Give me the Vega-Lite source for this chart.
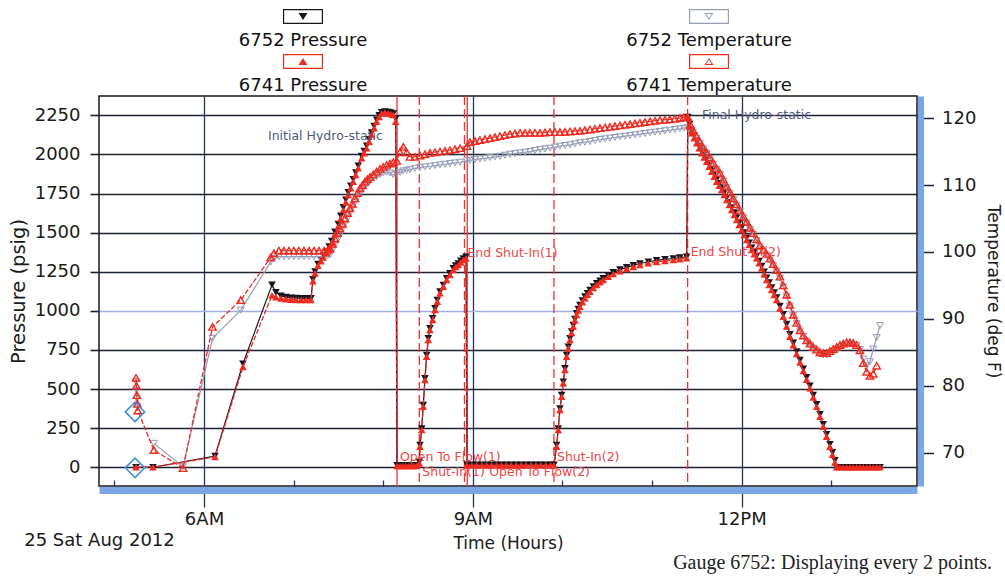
{
  "$schema": "https://vega.github.io/schema/vega-lite/v6.json",
  "width": 818,
  "height": 390,
  "autosize": {"type": "none"},
  "padding": {"left": 99, "top": 96, "right": 88, "bottom": 95},
  "background": "white",
  "title": {"text": "Gauge 6752: Displaying every 2 points.", "orient": "bottom", "anchor": "end", "frame": "group", "dx": 75, "offset": 2, "font": "Liberation Serif", "fontSize": 20, "fontWeight": "normal", "color": "#222222"},
  "config": {
    "view": {"stroke": "#1a1a1a", "strokeWidth": 1.5},
    "axis": {"labelFont": "DejaVu Sans", "titleFont": "DejaVu Sans", "labelColor": "#1a1a1a", "titleColor": "#1a1a1a", "titleFontWeight": "normal"}
  },
  "datasets": {
    "pres": [
      {"t":5.241,"P52":0,"P41":0},{"t":5.431,"P52":0,"P41":0},{"t":6.123,"P52":72,"P41":66},{"t":6.435,"P52":662,"P41":641},
      {"t":6.759,"P52":1166,"P41":1100},{"t":6.803,"P52":1118,"P41":1088},{"t":6.859,"P52":1096,"P41":1080},{"t":6.915,"P52":1088,"P41":1075},
      {"t":6.971,"P52":1084,"P41":1072},{"t":7.027,"P52":1082,"P41":1070},{"t":7.082,"P52":1081,"P41":1070},{"t":7.138,"P52":1080,"P41":1070},
      {"t":7.194,"P52":1080,"P41":1070},{"t":7.216,"P52":1202,"P41":1190},{"t":7.239,"P52":1252,"P41":1240},{"t":7.272,"P52":1300,"P41":1288},
      {"t":7.306,"P52":1330,"P41":1318},{"t":7.331,"P52":1354,"P41":1342},{"t":7.369,"P52":1380,"P41":1368},{"t":7.397,"P52":1412,"P41":1400},
      {"t":7.425,"P52":1446,"P41":1432},{"t":7.462,"P52":1505,"P41":1490},{"t":7.499,"P52":1555,"P41":1538},{"t":7.527,"P52":1608,"P41":1590},
      {"t":7.555,"P52":1662,"P41":1645},{"t":7.583,"P52":1711,"P41":1694},{"t":7.610,"P52":1758,"P41":1741},{"t":7.638,"P52":1800,"P41":1784},
      {"t":7.666,"P52":1842,"P41":1826},{"t":7.694,"P52":1885,"P41":1869},{"t":7.722,"P52":1928,"P41":1912},{"t":7.760,"P52":1990,"P41":1976},
      {"t":7.788,"P52":2022,"P41":2008},{"t":7.816,"P52":2055,"P41":2040},{"t":7.843,"P52":2097,"P41":2082},{"t":7.871,"P52":2140,"P41":2125},
      {"t":7.899,"P52":2182,"P41":2168},{"t":7.927,"P52":2222,"P41":2210},{"t":7.955,"P52":2250,"P41":2240},{"t":7.983,"P52":2270,"P41":2263},
      {"t":8.020,"P52":2274,"P41":2268},{"t":8.057,"P52":2272,"P41":2263},{"t":8.085,"P52":2268,"P41":2258},{"t":8.113,"P52":2262,"P41":2253},
      {"t":8.139,"P52":2230,"P41":2210},{"t":8.154,"P52":12,"P41":8},{"t":8.187,"P52":12,"P41":8},{"t":8.220,"P52":12,"P41":8},
      {"t":8.250,"P52":12,"P41":8},{"t":8.280,"P52":12,"P41":8},{"t":8.310,"P52":12,"P41":8},{"t":8.340,"P52":12,"P41":8},
      {"t":8.370,"P52":12,"P41":8},{"t":8.403,"P52":34,"P41":26},{"t":8.411,"P52":142,"P41":132},{"t":8.430,"P52":248,"P41":238},
      {"t":8.447,"P52":397,"P41":387},{"t":8.466,"P52":568,"P41":558},{"t":8.485,"P52":717,"P41":707},{"t":8.503,"P52":824,"P41":814},
      {"t":8.522,"P52":888,"P41":878},{"t":8.552,"P52":952,"P41":942},{"t":8.578,"P52":1016,"P41":1006},{"t":8.604,"P52":1069,"P41":1059},
      {"t":8.634,"P52":1123,"P41":1113},{"t":8.671,"P52":1165,"P41":1155},{"t":8.709,"P52":1208,"P41":1198},{"t":8.745,"P52":1240,"P41":1230},
      {"t":8.782,"P52":1272,"P41":1262},{"t":8.810,"P52":1290,"P41":1280},{"t":8.838,"P52":1303,"P41":1293},{"t":8.866,"P52":1320,"P41":1310},
      {"t":8.894,"P52":1335,"P41":1325},{"t":8.924,"P52":1346,"P41":1336},{"t":8.935,"P52":15,"P41":12},{"t":8.990,"P52":15,"P41":12},
      {"t":9.045,"P52":15,"P41":12},{"t":9.100,"P52":15,"P41":12},{"t":9.155,"P52":15,"P41":12},{"t":9.210,"P52":15,"P41":12},
      {"t":9.265,"P52":15,"P41":12},{"t":9.320,"P52":15,"P41":12},{"t":9.375,"P52":15,"P41":12},{"t":9.430,"P52":15,"P41":12},
      {"t":9.485,"P52":15,"P41":12},{"t":9.540,"P52":15,"P41":12},{"t":9.595,"P52":15,"P41":12},{"t":9.650,"P52":15,"P41":12},
      {"t":9.705,"P52":15,"P41":12},{"t":9.760,"P52":15,"P41":12},{"t":9.815,"P52":15,"P41":12},{"t":9.870,"P52":15,"P41":12},
      {"t":9.906,"P52":15,"P41":12},{"t":9.936,"P52":142,"P41":132},{"t":9.954,"P52":248,"P41":238},{"t":9.973,"P52":376,"P41":366},
      {"t":9.992,"P52":461,"P41":451},{"t":10.010,"P52":547,"P41":537},{"t":10.029,"P52":632,"P41":622},{"t":10.048,"P52":717,"P41":707},
      {"t":10.066,"P52":770,"P41":760},{"t":10.085,"P52":824,"P41":814},{"t":10.103,"P52":868,"P41":858},{"t":10.122,"P52":909,"P41":899},
      {"t":10.140,"P52":948,"P41":938},{"t":10.159,"P52":984,"P41":974},{"t":10.177,"P52":1012,"P41":1002},{"t":10.196,"P52":1037,"P41":1027},
      {"t":10.224,"P52":1066,"P41":1056},{"t":10.252,"P52":1091,"P41":1081},{"t":10.280,"P52":1113,"P41":1103},{"t":10.308,"P52":1133,"P41":1123},
      {"t":10.345,"P52":1156,"P41":1146},{"t":10.383,"P52":1176,"P41":1166},{"t":10.420,"P52":1193,"P41":1183},{"t":10.456,"P52":1208,"P41":1198},
      {"t":10.512,"P52":1228,"P41":1218},{"t":10.568,"P52":1246,"P41":1236},{"t":10.643,"P52":1264,"P41":1254},{"t":10.718,"P52":1278,"P41":1268},
      {"t":10.792,"P52":1291,"P41":1281},{"t":10.866,"P52":1303,"P41":1293},{"t":10.960,"P52":1314,"P41":1304},{"t":11.052,"P52":1323,"P41":1313},
      {"t":11.145,"P52":1329,"P41":1319},{"t":11.238,"P52":1335,"P41":1325},{"t":11.310,"P52":1341,"P41":1331},{"t":11.387,"P52":1346,"P41":1336},
      {"t":11.400,"P52":2240,"P41":2235},{"t":11.420,"P52":2195,"P41":2180},{"t":11.443,"P52":2151,"P41":2136},{"t":11.471,"P52":2119,"P41":2104},
      {"t":11.499,"P52":2087,"P41":2072},{"t":11.527,"P52":2055,"P41":2040},{"t":11.554,"P52":2023,"P41":2008},{"t":11.582,"P52":1996,"P41":1981},
      {"t":11.610,"P52":1969,"P41":1954},{"t":11.638,"P52":1937,"P41":1922},{"t":11.666,"P52":1905,"P41":1890},{"t":11.694,"P52":1873,"P41":1858},
      {"t":11.722,"P52":1841,"P41":1826},{"t":11.750,"P52":1815,"P41":1800},{"t":11.778,"P52":1788,"P41":1773},{"t":11.806,"P52":1756,"P41":1741},
      {"t":11.834,"P52":1724,"P41":1709},{"t":11.862,"P52":1692,"P41":1677},{"t":11.890,"P52":1660,"P41":1645},{"t":11.918,"P52":1628,"P41":1613},
      {"t":11.945,"P52":1596,"P41":1581},{"t":11.973,"P52":1564,"P41":1549},{"t":12.001,"P52":1532,"P41":1517},{"t":12.029,"P52":1500,"P41":1485},
      {"t":12.057,"P52":1468,"P41":1453},{"t":12.085,"P52":1436,"P41":1421},{"t":12.113,"P52":1404,"P41":1389},{"t":12.140,"P52":1377,"P41":1362},
      {"t":12.168,"P52":1351,"P41":1336},{"t":12.196,"P52":1319,"P41":1304},{"t":12.224,"P52":1287,"P41":1272},{"t":12.252,"P52":1250,"P41":1235},
      {"t":12.280,"P52":1212,"P41":1197},{"t":12.308,"P52":1181,"P41":1166},{"t":12.336,"P52":1149,"P41":1134},{"t":12.364,"P52":1117,"P41":1102},
      {"t":12.392,"P52":1085,"P41":1070},{"t":12.428,"P52":1031,"P41":1016},{"t":12.465,"P52":978,"P41":963},{"t":12.503,"P52":915,"P41":900},
      {"t":12.540,"P52":850,"P41":835},{"t":12.577,"P52":795,"P41":780},{"t":12.615,"P52":740,"P41":725},{"t":12.652,"P52":685,"P41":670},
      {"t":12.689,"P52":630,"P41":615},{"t":12.726,"P52":575,"P41":560},{"t":12.763,"P52":520,"P41":505},{"t":12.800,"P52":461,"P41":446},
      {"t":12.838,"P52":402,"P41":387},{"t":12.875,"P52":338,"P41":323},{"t":12.911,"P52":275,"P41":260},{"t":12.949,"P52":211,"P41":196},
      {"t":12.986,"P52":147,"P41":132},{"t":13.014,"P52":95,"P41":80},{"t":13.042,"P52":45,"P41":30},{"t":13.061,"P52":0,"P41":0},
      {"t":13.098,"P52":0,"P41":0},{"t":13.135,"P52":0,"P41":0},{"t":13.173,"P52":0,"P41":0},{"t":13.210,"P52":0,"P41":0},
      {"t":13.245,"P52":0,"P41":0},{"t":13.284,"P52":0,"P41":0},{"t":13.321,"P52":0,"P41":0},{"t":13.358,"P52":0,"P41":0},
      {"t":13.396,"P52":0,"P41":0},{"t":13.433,"P52":0,"P41":0},{"t":13.470,"P52":0,"P41":0},{"t":13.508,"P52":0,"P41":0},
      {"t":13.545,"P52":0,"P41":0}
    ],
    "temp": [
      {"t":5.241,"T52":80.6,"T41":81.2},{"t":5.246,"T52":79.3,"T41":80.0},{"t":5.251,"T52":78.0,"T41":78.6},{"t":5.256,"T52":76.9,"T41":77.3},
      {"t":5.261,"T41":76.3},{"t":5.440,"T52":71.4,"T41":70.4},{"t":5.766,"T52":67.9,"T41":67.7},{"t":6.095,"T52":87.1,"T41":88.8},
      {"t":6.410,"T52":91.3,"T41":92.8},{"t":6.745,"T52":98.5,"T41":99.2},{"t":6.780,"T52":99.0,"T41":99.8},{"t":6.836,"T52":99.3,"T41":100.2},
      {"t":6.892,"T52":99.3,"T41":100.2},{"t":6.948,"T52":99.3,"T41":100.2},{"t":7.004,"T52":99.3,"T41":100.2},{"t":7.060,"T52":99.3,"T41":100.2},
      {"t":7.116,"T52":99.3,"T41":100.2},{"t":7.172,"T52":99.3,"T41":100.2},{"t":7.228,"T52":99.3,"T41":100.2},{"t":7.284,"T52":99.3,"T41":100.2},
      {"t":7.340,"T52":99.3,"T41":100.2},{"t":7.380,"T52":99.4,"T41":100.3},{"t":7.406,"T52":99.6,"T41":100.5},{"t":7.434,"T52":100.3,"T41":101.2},
      {"t":7.462,"T52":101.0,"T41":102.0},{"t":7.490,"T52":101.8,"T41":102.8},{"t":7.518,"T52":102.6,"T41":103.5},{"t":7.546,"T52":103.4,"T41":104.2},
      {"t":7.574,"T52":104.2,"T41":105.0},{"t":7.602,"T52":105.0,"T41":105.8},{"t":7.629,"T52":105.8,"T41":106.5},{"t":7.657,"T52":106.6,"T41":107.2},
      {"t":7.685,"T52":107.4,"T41":108.0},{"t":7.713,"T52":108.1,"T41":108.8},{"t":7.741,"T52":108.8,"T41":109.5},{"t":7.769,"T52":109.3,"T41":110.0},
      {"t":7.797,"T52":109.8,"T41":110.5},{"t":7.825,"T52":110.2,"T41":110.9},{"t":7.853,"T52":110.6,"T41":111.2},{"t":7.890,"T52":111.0,"T41":111.6},
      {"t":7.927,"T52":111.3,"T41":112.0},{"t":7.964,"T52":111.6,"T41":112.4},{"t":8.001,"T52":111.8,"T41":112.7},{"t":8.038,"T52":111.9,"T41":113.0},
      {"t":8.076,"T52":111.8,"T41":113.2},{"t":8.113,"T52":111.5,"T41":113.4},{"t":8.151,"T52":111.7,"T41":113.6},{"t":8.187,"T52":111.9,"T41":114.9},
      {"t":8.224,"T52":112.1,"T41":115.7},{"t":8.262,"T52":112.2,"T41":114.9},{"t":8.299,"T52":112.3,"T41":114.2},{"t":8.355,"T52":112.5,"T41":114.2},
      {"t":8.411,"T52":112.6,"T41":114.4},{"t":8.466,"T52":112.7,"T41":114.6},{"t":8.522,"T52":112.8,"T41":114.8},{"t":8.578,"T52":112.9,"T41":114.9},
      {"t":8.634,"T52":113.0,"T41":115.0},{"t":8.690,"T52":113.1,"T41":115.1},{"t":8.745,"T52":113.2,"T41":115.2},{"t":8.801,"T52":113.3,"T41":115.35},
      {"t":8.857,"T52":113.4,"T41":115.5},{"t":8.935,"T52":113.6,"T41":115.8},{"t":8.969,"T52":113.7,"T41":116.4},{"t":9.025,"T52":113.8,"T41":116.55},
      {"t":9.080,"T52":113.9,"T41":116.7},{"t":9.136,"T52":114.0,"T41":116.85},{"t":9.192,"T52":114.1,"T41":117.0},{"t":9.248,"T52":114.2,"T41":117.15},
      {"t":9.303,"T52":114.3,"T41":117.3},{"t":9.359,"T52":114.45,"T41":117.45},{"t":9.415,"T52":114.6,"T41":117.6},{"t":9.471,"T52":114.7,"T41":117.7},
      {"t":9.527,"T52":114.8,"T41":117.8},{"t":9.583,"T52":114.9,"T41":117.8},{"t":9.638,"T52":115.0,"T41":117.8},{"t":9.694,"T52":115.15,"T41":117.8},
      {"t":9.750,"T52":115.3,"T41":117.8},{"t":9.806,"T52":115.4,"T41":117.85},{"t":9.861,"T52":115.5,"T41":117.9},{"t":9.917,"T52":115.65,"T41":117.9},
      {"t":9.973,"T52":115.8,"T41":117.9},{"t":10.029,"T52":115.9,"T41":117.95},{"t":10.085,"T52":116.0,"T41":118.0},{"t":10.140,"T52":116.15,"T41":118.05},
      {"t":10.196,"T52":116.3,"T41":118.1},{"t":10.252,"T52":116.4,"T41":118.2},{"t":10.308,"T52":116.5,"T41":118.3},{"t":10.364,"T52":116.65,"T41":118.4},
      {"t":10.420,"T52":116.8,"T41":118.5},{"t":10.476,"T52":116.9,"T41":118.6},{"t":10.531,"T52":117.0,"T41":118.7},{"t":10.587,"T52":117.1,"T41":118.8},
      {"t":10.643,"T52":117.2,"T41":118.9},{"t":10.699,"T52":117.3,"T41":119.0},{"t":10.755,"T52":117.4,"T41":119.1},{"t":10.811,"T52":117.5,"T41":119.2},
      {"t":10.866,"T52":117.6,"T41":119.3},{"t":10.922,"T52":117.7,"T41":119.4},{"t":10.978,"T52":117.8,"T41":119.5},{"t":11.034,"T52":117.9,"T41":119.6},
      {"t":11.089,"T52":118.0,"T41":119.7},{"t":11.145,"T52":118.1,"T41":119.75},{"t":11.200,"T52":118.2,"T41":119.8},{"t":11.256,"T52":118.3,"T41":119.9},
      {"t":11.312,"T52":118.4,"T41":120.0},{"t":11.355,"T52":118.5,"T41":120.1},{"t":11.398,"T52":118.6,"T41":120.2},{"t":11.430,"T52":118.2,"T41":119.0},
      {"t":11.457,"T52":117.8,"T41":118.2},{"t":11.497,"T52":117.0,"T41":117.3},{"t":11.536,"T52":116.2,"T41":116.4},{"t":11.573,"T52":115.4,"T41":115.6},
      {"t":11.610,"T52":114.7,"T41":114.9},{"t":11.647,"T52":113.9,"T41":114.1},{"t":11.684,"T52":113.1,"T41":113.3},{"t":11.722,"T52":112.3,"T41":112.5},
      {"t":11.759,"T52":111.6,"T41":111.8},{"t":11.797,"T52":110.6,"T41":110.8},{"t":11.834,"T52":109.6,"T41":109.8},{"t":11.870,"T52":108.7,"T41":108.9},
      {"t":11.907,"T52":107.8,"T41":108.0},{"t":11.945,"T52":106.9,"T41":107.1},{"t":11.982,"T52":106.0,"T41":106.2},{"t":12.020,"T52":105.1,"T41":105.3},
      {"t":12.057,"T52":104.3,"T41":104.5},{"t":12.094,"T52":103.4,"T41":103.6},{"t":12.130,"T52":102.6,"T41":102.8},{"t":12.168,"T52":101.7,"T41":101.9},
      {"t":12.205,"T52":100.8,"T41":101.0},{"t":12.243,"T52":100.1,"T41":100.3},{"t":12.280,"T52":99.5,"T41":99.7},{"t":12.317,"T52":98.8,"T41":99.0},
      {"t":12.354,"T52":98.0,"T41":98.2},{"t":12.391,"T52":97.1,"T41":97.3},{"t":12.428,"T52":96.1,"T41":96.3},{"t":12.465,"T52":94.8,"T41":95.0},
      {"t":12.503,"T52":93.4,"T41":93.6},{"t":12.540,"T52":91.9,"T41":92.1},{"t":12.577,"T52":90.5,"T41":90.6},{"t":12.615,"T52":89.3,"T41":89.4},
      {"t":12.652,"T52":88.2,"T41":88.3},{"t":12.689,"T52":87.4,"T41":87.5},{"t":12.726,"T52":86.6,"T41":86.8},{"t":12.763,"T52":86.1,"T41":86.3},
      {"t":12.800,"T52":85.6,"T41":85.8},{"t":12.838,"T52":85.2,"T41":85.4},{"t":12.875,"T52":84.8,"T41":85.0},{"t":12.911,"T52":84.6,"T41":84.9},
      {"t":12.949,"T52":84.6,"T41":84.9},{"t":12.986,"T52":84.9,"T41":85.2},{"t":13.023,"T52":85.2,"T41":85.5},{"t":13.061,"T52":85.5,"T41":85.8},
      {"t":13.098,"T52":85.8,"T41":86.1},{"t":13.135,"T52":86.0,"T41":86.3},{"t":13.173,"T52":86.2,"T41":86.5},{"t":13.210,"T52":86.2,"T41":86.5},
      {"t":13.245,"T52":86.2,"T41":86.4},{"t":13.284,"T52":86.0,"T41":86.1},{"t":13.321,"T52":85.4,"T41":85.3},{"t":13.358,"T52":84.0,"T41":83.4},
      {"t":13.396,"T52":83.0,"T41":82.1},{"t":13.433,"T52":83.6,"T41":81.5},{"t":13.470,"T52":85.5,"T41":81.8},{"t":13.508,"T52":87.2,"T41":83.0},
      {"t":13.545,"T52":89.0}
    ],
    "ev": [
      {"t":8.154,"k":"s"},{"t":8.403,"k":"d"},{"t":8.907,"k":"d"},{"t":8.938,"k":"s"},{"t":9.906,"k":"d"},{"t":11.398,"k":"d"}
    ],
    "evl": [
      {"t":8.154,"p":68,"label":"Open To Flow(1)"},
      {"t":8.403,"p":-32,"label":"Shut-In(1)"},
      {"t":9.150,"p":-32,"label":"Open To Flow(2)"},
      {"t":8.907,"p":1370,"label":"End Shut-In(1)"},
      {"t":9.906,"p":68,"label":"Shut-In(2)"},
      {"t":11.398,"p":1378,"label":"End Shut-In(2)"}
    ],
    "notes": [
      {"t":6.714,"p":2120,"label":"Initial Hydro-static"},
      {"t":11.558,"p":2253,"label":"Final Hydro-static"}
    ],
    "dia": [
      {"t":5.230,"p":354},{"t":5.230,"p":-4}
    ]
  },
  "encoding": {
    "x": {
      "field": "t", "type": "quantitative",
      "scale": {"domain": [4.828, 13.958], "nice": false, "zero": false},
      "axis": {
        "values": [4.828, 5, 6, 7, 8, 9, 10, 11, 12, 13],
        "labelExpr": "datum.value < 4.9 ? ['', '25 Sat Aug 2012'] : datum.value == 6 ? '6AM' : datum.value == 9 ? '9AM' : datum.value == 12 ? '12PM' : ''",
        "title": "Time (Hours)",
        "grid": true,
        "gridColor": {"condition": {"test": "datum.value == 6 || datum.value == 9 || datum.value == 12", "value": "#26326a"}, "value": "transparent"},
        "gridWidth": 1.3,
        "tickSize": {"condition": {"test": "datum.value == 6 || datum.value == 9 || datum.value == 12 || datum.value < 4.9", "value": 17}, "value": -10},
        "tickWidth": 1.3,
        "tickColor": {"condition": {"test": "datum.value < 4.9", "value": "transparent"}, "value": "#26326a"},
        "domain": true, "domainColor": "#7aa6e8", "domainWidth": 7, "offset": 4,
        "labelPadding": 3, "labelFontSize": 18, "labelLineHeight": 21,
        "labelFlush": false, "labelOverlap": false, "labelBound": false,
        "titleFontSize": 17, "titleY": 53, "titleBaseline": "middle"
      }
    }
  },
  "layer": [
    {
      "data": {"name": "ev"},
      "mark": {"type": "rule", "color": "#ee3030", "strokeWidth": 1.3},
      "encoding": {
        "strokeDash": {"field": "k", "type": "nominal", "scale": {"domain": ["s", "d"], "range": [[1, 0], [9, 4]]}, "legend": null}
      }
    },
    {
      "data": {"name": "pres"},
      "mark": {"type": "point", "shape": "triangle-down", "filled": true, "size": 58, "opacity": 1},
      "encoding": {
        "y": {"field": "P52", "type": "quantitative", "scale": {"domain": [-120, 2374], "nice": false, "zero": false},
          "axis": {"orient": "left", "values": [0,250,500,750,1000,1250,1500,1750,2000,2250], "format": "d", "title": "Pressure (psig)",
            "grid": true, "gridColor": {"condition": {"test": "datum.value === 1000", "value": "#9db0e0"}, "value": "#1c2236"}, "gridWidth": 1.6,
            "tickSize": 9, "tickWidth": 1.6, "tickColor": "#1c2236", "domain": false,
            "labelPadding": 10, "labelFontSize": 18, "titleFontSize": 19.5, "titlePadding": 6}},
        "color": {"datum": "6752 Pressure", "type": "nominal",
          "scale": {"domain": ["6752 Pressure", "6741 Pressure", "6752 Temperature", "6741 Temperature"], "range": ["#151520", "#ee2b1f", "#959db8", "#ee2b1f"]},
          "legend": {
            "orient": "none", "legendX": 181, "legendY": -87, "columns": 2, "columnPadding": 258, "rowPadding": 4,
            "title": null, "padding": 0, "labelFont": "DejaVu Sans", "labelFontSize": 18, "labelColor": "#111111",
            "labelAlign": "center", "labelBaseline": "top", "labelOffset": -23, "labelLimit": 400, "symbolSize": 2116,
            "symbolStrokeWidth": 0, "symbolStrokeColor": "transparent", "symbolOpacity": 1,
            "symbolFillColor": {"expr": "datum.value === '6752 Pressure' ? '#2a2a3a' : datum.value === '6752 Temperature' ? '#a8adc2' : '#e8342c'"},
            "symbolType": {"expr": "datum.value === '6752 Pressure' ? 'M-0.87,-1H0.87V-0.348H-0.87Z M-0.818,-0.948V-0.4H0.818V-0.948Z M-0.195,-0.824H0.195L0,-0.524Z' : datum.value === '6741 Pressure' ? 'M-0.87,-1H0.87V-0.348H-0.87Z M-0.818,-0.948V-0.4H0.818V-0.948Z M0,-0.824L0.195,-0.524H-0.195Z' : datum.value === '6752 Temperature' ? 'M-0.87,-1H0.87V-0.348H-0.87Z M-0.818,-0.948V-0.4H0.818V-0.948Z M-0.195,-0.824H0.195L0,-0.524Z M-0.12,-0.785L0,-0.6L0.12,-0.785Z' : 'M-0.87,-1H0.87V-0.348H-0.87Z M-0.818,-0.948V-0.4H0.818V-0.948Z M0,-0.824L0.195,-0.524H-0.195Z M0,-0.748L-0.12,-0.563H0.12Z'"}
          }
        }
      }
    },
    {
      "data": {"name": "pres"},
      "mark": {"type": "line", "strokeWidth": 1.2},
      "encoding": {
        "y": {"field": "P52", "type": "quantitative", "scale": {"domain": [-120, 2374], "nice": false, "zero": false}, "axis": null},
        "color": {"datum": "6752 Pressure", "type": "nominal"}
      }
    },
    {
      "data": {"name": "temp"},
      "mark": {"type": "line", "strokeWidth": 1.2},
      "encoding": {
        "y": {"field": "T52", "type": "quantitative", "scale": {"domain": [65.03, 123.3], "nice": false, "zero": false},
          "axis": {"orient": "right", "values": [70,80,90,100,110,120], "title": "Temperature (deg F)", "grid": false,
            "offset": 3.5, "domain": true, "domainColor": "#7aa6e8", "domainWidth": 6,
            "tickSize": 13, "tickColor": "#1c2236", "tickWidth": 1.5, "labelPadding": 8, "labelFontSize": 18,
            "titleFontSize": 17, "titlePadding": 8}},
        "color": {"datum": "6752 Temperature", "type": "nominal"}
      }
    },
    {
      "data": {"name": "temp"},
      "mark": {"type": "point", "shape": "triangle-down", "filled": false, "size": 48, "strokeWidth": 1, "opacity": 1},
      "encoding": {
        "y": {"field": "T52", "type": "quantitative", "scale": {"domain": [65.03, 123.3], "nice": false, "zero": false}, "axis": null},
        "color": {"datum": "6752 Temperature", "type": "nominal"}
      }
    },
    {
      "data": {"name": "temp"},
      "mark": {"type": "line", "strokeWidth": 1.3, "strokeDash": [5, 2]},
      "encoding": {
        "y": {"field": "T41", "type": "quantitative", "scale": {"domain": [65.03, 123.3], "nice": false, "zero": false}, "axis": null},
        "color": {"datum": "6741 Temperature", "type": "nominal"}
      }
    },
    {
      "data": {"name": "temp"},
      "mark": {"type": "point", "shape": "triangle-up", "filled": false, "size": 55, "strokeWidth": 1.4, "opacity": 1},
      "encoding": {
        "y": {"field": "T41", "type": "quantitative", "scale": {"domain": [65.03, 123.3], "nice": false, "zero": false}, "axis": null},
        "color": {"datum": "6741 Temperature", "type": "nominal"}
      }
    },
    {
      "data": {"name": "pres"},
      "mark": {"type": "line", "strokeWidth": 1.3, "strokeDash": [5, 2]},
      "encoding": {
        "y": {"field": "P41", "type": "quantitative", "scale": {"domain": [-120, 2374], "nice": false, "zero": false}, "axis": null},
        "color": {"datum": "6741 Pressure", "type": "nominal"}
      }
    },
    {
      "data": {"name": "pres"},
      "mark": {"type": "point", "shape": "triangle-up", "filled": true, "size": 58, "opacity": 1},
      "encoding": {
        "y": {"field": "P41", "type": "quantitative", "scale": {"domain": [-120, 2374], "nice": false, "zero": false}, "axis": null},
        "color": {"datum": "6741 Pressure", "type": "nominal"}
      }
    },
    {
      "data": {"name": "dia"},
      "mark": {"type": "point", "shape": "diamond", "size": 380, "filled": false, "stroke": "#3d8fe0", "strokeWidth": 1.5, "opacity": 1},
      "encoding": {
        "y": {"field": "p", "type": "quantitative", "scale": {"domain": [-120, 2374], "nice": false, "zero": false}, "axis": null}
      }
    },
    {
      "data": {"name": "evl"},
      "mark": {"type": "text", "align": "left", "baseline": "middle", "dx": 3, "font": "DejaVu Sans", "fontSize": 12.5, "color": "#f04545"},
      "encoding": {
        "y": {"field": "p", "type": "quantitative", "scale": {"domain": [-120, 2374], "nice": false, "zero": false}, "axis": null},
        "text": {"field": "label", "type": "nominal"}
      }
    },
    {
      "data": {"name": "notes"},
      "mark": {"type": "text", "align": "left", "baseline": "middle", "font": "DejaVu Sans", "fontSize": 12.5, "color": "#4f5a7e"},
      "encoding": {
        "y": {"field": "p", "type": "quantitative", "scale": {"domain": [-120, 2374], "nice": false, "zero": false}, "axis": null},
        "text": {"field": "label", "type": "nominal"}
      }
    }
  ],
  "resolve": {"scale": {"y": "independent"}}
}
